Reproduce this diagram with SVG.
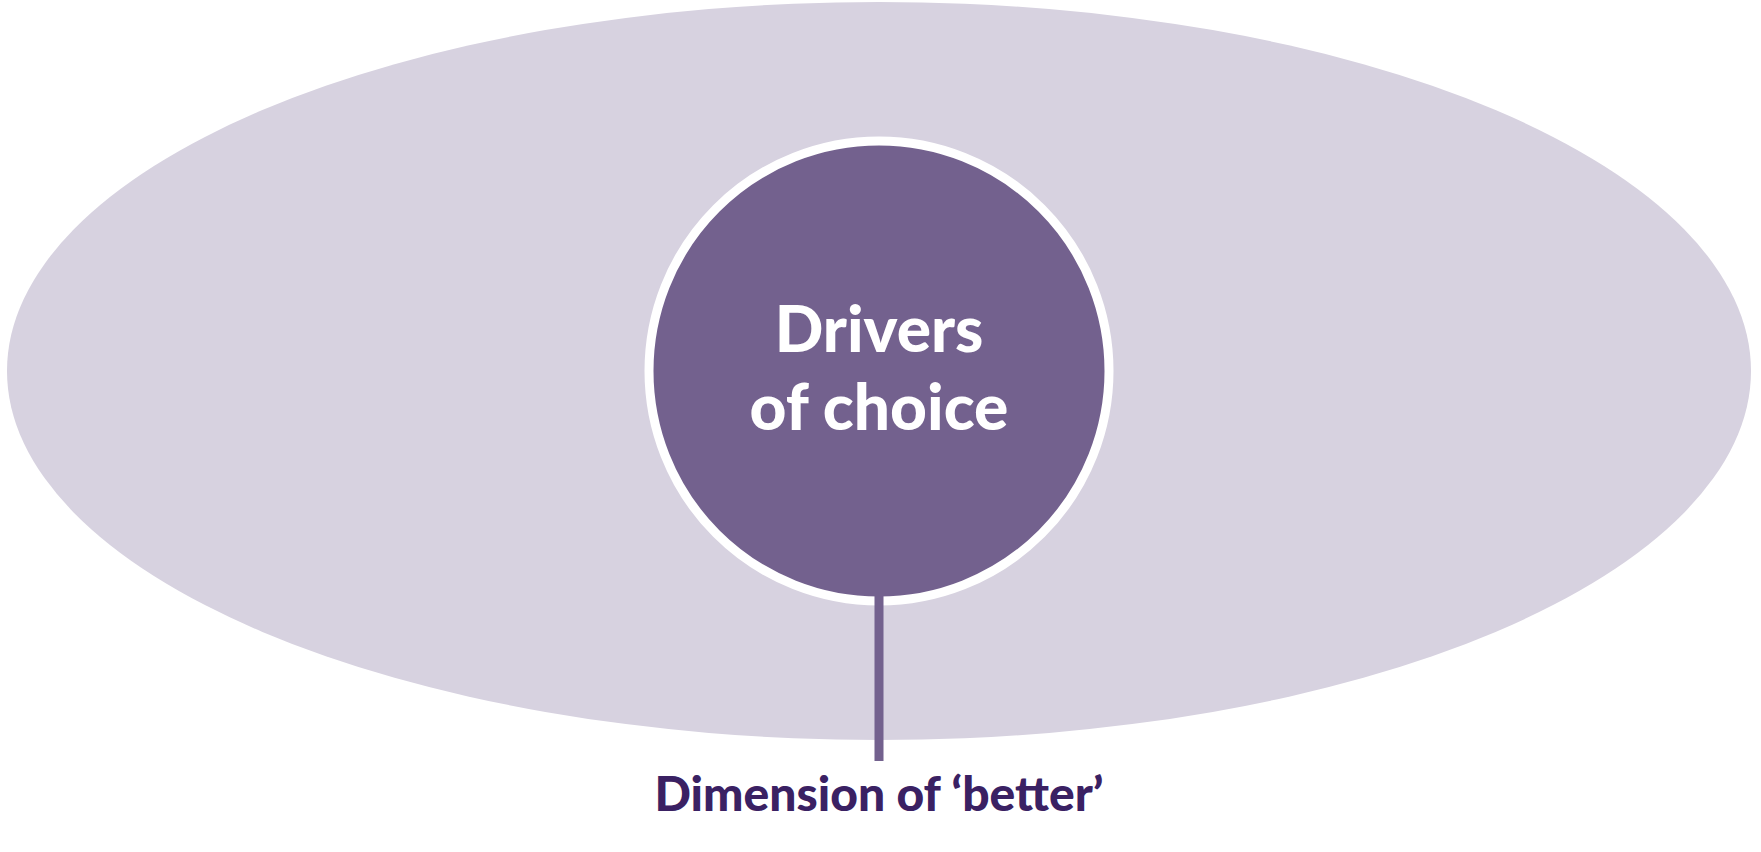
<svg xmlns="http://www.w3.org/2000/svg" width="1761" height="852" viewBox="0 0 1761 852">
<style>
.t{font-family:Lato,"Open Sans","Liberation Sans",sans-serif;font-weight:900;text-anchor:middle}
</style>
<rect width="1761" height="852" fill="#fff"/>
<g id="outer"><ellipse cx="879" cy="371" rx="872" ry="369" fill="#d7d2e0"/></g>
<g id="drivers">
<circle cx="879" cy="371" r="230" fill="#73618e" stroke="#fff" stroke-width="9"/>
<text class="t" x="879" y="352" font-size="64" fill="#fff">Drivers</text>
<text class="t" x="879" y="430" font-size="64" fill="#fff">of choice</text>
</g>
<g id="connectors"><line x1="879" y1="596" x2="879" y2="761" stroke="#73618e" stroke-width="9"/></g>
<g id="label"><text class="t" x="879" y="811" font-size="48" fill="#3a2163">Dimension of ‘better’</text></g>
</svg>
